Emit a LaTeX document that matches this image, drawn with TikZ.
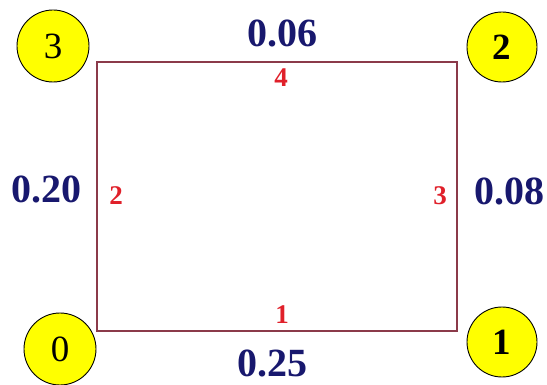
\documentclass[tikz,border=0pt]{standalone}
\usepackage{fontspec}
\setmainfont{Liberation Serif}
\usetikzlibrary{positioning,calc}
\definecolor{wire}{HTML}{8B3A4A}
\definecolor{wt}{HTML}{18186E}
\definecolor{eid}{HTML}{E0202A}
\definecolor{bulb}{HTML}{FFFF00}
\tikzset{
  vtx/.style={
    circle, draw=black, line width=0.9pt, fill=bulb, minimum size=72pt,
    inner sep=0pt, font=\fontsize{37}{37}\selectfont, text=black},
  link/.style={draw=wire, line width=1.3pt},
  wgt/.style={font=\fontsize{40}{40}\selectfont\bfseries, text=wt, inner sep=0pt},
  eno/.style={font=\fontsize{27}{27}\selectfont\bfseries, text=eid, inner sep=0pt},
}

\begin{document}
\begin{tikzpicture}[x=1pt, y=-1pt]
\useasboundingbox (0,0) rectangle (547,385);

% =====================================================================
\node[vtx] (v0) at (60,349) {0};
\node[vtx, minimum size=70pt] (v1) at (502,342) {\bfseries 1};
\node[vtx, minimum size=70pt] (v2) at (502,47)  {\bfseries 2};
\node[vtx] (v3) at (53,46)  {3};

% corners of the loop
\coordinate (k0) at (97,331);
\coordinate (k1) at (457,331);
\coordinate (k2) at (457,62);
\coordinate (k3) at (97,62);

\draw[link] (k0) -- (k1) -- (k2) -- (k3) -- cycle;

% edge numbers
\node[eno] (e1) at (282,315) {1};
\node[eno] (e2) at (116,196) {2};
\node[eno] (e3) at (440,196) {3};
\node[eno] (e4) at (281,78)  {4};

% weights
\node[wgt] (w1) at (272,363) {0.25};
\node[wgt] (w2) at (47,189)  {0.20};
\node[wgt] (w3) at (509,191) {0.08};
\node[wgt] (w4) at (282,33)  {0.06};

\end{tikzpicture}
\end{document}
